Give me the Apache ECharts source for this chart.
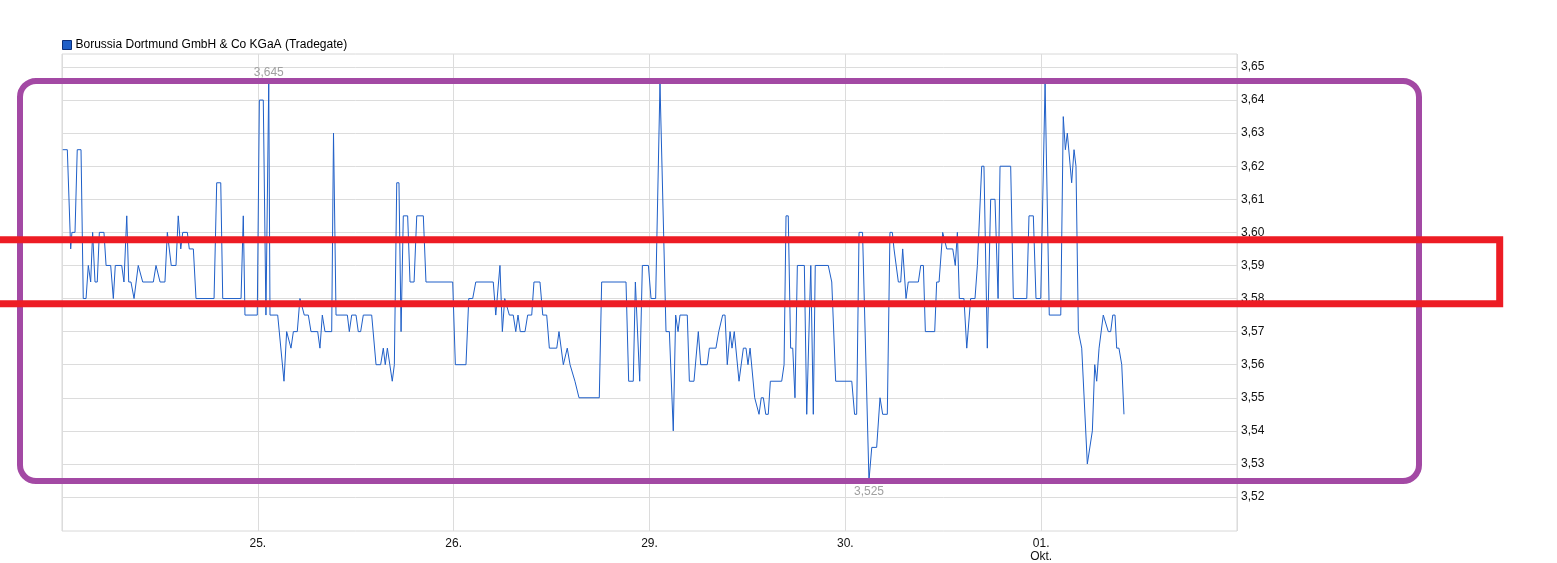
<!DOCTYPE html>
<html>
<head>
<meta charset="utf-8">
<script src="https://cdn.jsdelivr.net/npm/echarts@6/dist/echarts.min.js"></script>
<style>
html,body{margin:0;padding:0;background:#fff;}
#chart{width:1557px;height:563px;}
</style>
</head>
<body>
<div id="chart"></div>
<script>
// Trading-session hours since 24.09. 08:00 (each trading day = 14 h, 08:00-22:00)
var sessionHours = [
0.05,0.38,0.62,0.71,0.93,1.09,1.36,1.52,1.72,1.88,2.05,2.19,2.36,2.52,2.67,3.00,3.15,3.48,3.67,3.81,
4.27,4.43,4.63,4.77,4.93,5.15,5.29,5.45,5.58,5.77,6.53,6.72,6.86,7.01,7.36,7.53,7.65,7.81,8.15,8.31,
8.49,8.63,8.96,9.10,9.39,9.58,10.87,11.06,11.35,11.49,12.80,12.96,13.08,13.96,
14.11,14.39,14.58,14.78,14.87,15.42,15.87,16.06,16.18,16.37,16.54,16.82,17.01,17.14,17.32,17.61,17.80,
18.28,18.44,18.61,18.80,19.28,19.41,19.59,20.40,20.54,20.71,21.02,21.18,21.35,21.54,22.14,22.45,22.78,
22.97,23.11,23.26,23.61,23.76,23.93,24.09,24.24,24.40,24.71,24.88,25.17,25.36,25.83,26.02,27.93,
28.12,28.88,29.08,29.36,29.58,30.83,31.01,31.15,31.31,31.48,31.65,31.79,31.98,32.26,32.44,32.60,32.76,
33.10,33.29,33.58,33.74,34.17,34.37,34.65,34.84,35.37,35.53,35.67,35.84,35.96,36.12,36.32,36.44,36.67,
36.80,36.96,38.41,38.58,40.32,40.51,40.84,40.99,41.13,41.30,41.49,41.92,
42.11,42.44,42.75,43.18,43.42,43.70,43.87,44.04,44.18,44.70,44.85,45.18,45.49,45.66,46.13,46.28,46.75,
46.95,47.09,47.23,47.40,47.56,47.76,47.90,48.06,48.18,48.40,48.71,48.90,49.04,49.19,49.33,49.52,49.66,
49.83,49.99,50.14,50.31,50.49,50.64,51.45,51.62,51.76,51.92,52.09,52.24,52.40,52.57,53.07,53.24,53.38,
53.53,53.71,53.85,54.78,55.03,55.14,55.31,
56.46,56.66,56.81,56.98,57.23,57.69,57.89,58.24,58.48,58.67,59.00,59.19,59.36,59.48,59.62,59.79,59.96,
60.10,60.34,60.50,61.22,61.39,61.58,61.72,62.39,62.53,62.70,62.96,63.08,63.25,63.68,63.86,64.01,64.15,
64.48,64.68,64.79,64.96,65.27,65.44,65.75,65.91,66.15,66.27,66.39,66.70,66.92,67.06,67.82,68.01,68.97,
69.13,69.44,69.63,69.97,
70.28,70.58,71.40,71.58,71.73,71.87,72.18,72.35,72.49,72.66,72.90,73.01,73.30,73.66,73.83,73.97,74.14,
74.44,74.56,74.80,74.97,75.12,75.28,75.40,75.56,75.76,75.92
];
var prices = [
3.625,3.625,3.595,3.600,3.600,3.625,3.625,3.580,3.580,3.590,3.585,3.600,3.585,3.585,3.600,3.600,3.590,3.590,3.580,3.590,
3.590,3.585,3.605,3.585,3.585,3.580,3.580,3.590,3.590,3.585,3.585,3.590,3.590,3.585,3.585,3.600,3.600,3.590,3.590,3.605,
3.595,3.600,3.600,3.595,3.595,3.580,3.580,3.615,3.615,3.580,3.580,3.605,3.575,3.575,
3.640,3.640,3.575,3.645,3.575,3.575,3.555,3.570,3.570,3.565,3.570,3.570,3.580,3.580,3.575,3.575,3.570,
3.570,3.565,3.575,3.570,3.570,3.630,3.575,3.575,3.570,3.575,3.575,3.570,3.570,3.575,3.575,3.560,3.560,
3.565,3.560,3.565,3.555,3.560,3.615,3.615,3.570,3.605,3.605,3.585,3.585,3.605,3.605,3.585,3.585,
3.560,3.560,3.580,3.580,3.585,3.585,3.575,3.575,3.590,3.570,3.580,3.580,3.575,3.575,3.570,3.575,3.570,
3.570,3.575,3.575,3.585,3.585,3.575,3.575,3.565,3.565,3.570,3.570,3.560,3.560,3.565,3.560,3.560,3.555,
3.555,3.550,3.550,3.585,3.585,3.555,3.555,3.585,3.585,3.555,3.590,3.590,
3.580,3.580,3.645,3.570,3.570,3.540,3.575,3.570,3.575,3.575,3.555,3.555,3.570,3.560,3.560,3.565,3.565,
3.570,3.570,3.575,3.575,3.560,3.570,3.565,3.570,3.570,3.555,3.565,3.565,3.560,3.565,3.565,3.550,3.550,
3.545,3.550,3.550,3.545,3.545,3.555,3.555,3.560,3.605,3.605,3.565,3.565,3.550,3.590,3.590,3.545,3.545,
3.590,3.545,3.590,3.590,3.585,3.585,3.555,
3.555,3.545,3.545,3.600,3.600,3.525,3.535,3.535,3.550,3.545,3.545,3.600,3.600,3.595,3.595,3.585,3.585,
3.595,3.580,3.585,3.585,3.590,3.590,3.570,3.570,3.585,3.585,3.600,3.600,3.595,3.595,3.590,3.600,3.580,
3.580,3.565,3.565,3.580,3.580,3.590,3.620,3.620,3.565,3.565,3.610,3.610,3.580,3.620,3.620,3.580,3.580,
3.605,3.605,3.580,3.580,
3.645,3.575,3.575,3.635,3.625,3.630,3.615,3.625,3.620,3.570,3.565,3.565,3.530,3.540,3.560,3.555,3.565,
3.575,3.575,3.570,3.570,3.575,3.575,3.565,3.565,3.560,3.545
];
var dayTicks = [14, 28, 42, 56, 70];
var dayLabels = ['25.', '26.', '29.', '30.', '01.\nOkt.'];
var seriesName = 'Borussia Dortmund GmbH & Co KGaA (Tradegate)';

var data = sessionHours.map(function (h, i) { return [h, prices[i]]; });
function fmt(v, d) { return v.toFixed(d).replace('.', ','); }
var FONT = '"Liberation Sans", Arial, sans-serif';

var chart = echarts.init(document.getElementById('chart'), null, {renderer: 'canvas'});
chart.setOption({
  animation: false,
  backgroundColor: '#fff',
  textStyle: {fontFamily: FONT},
  legend: {
    left: 57, top: 34,
    icon: 'rect', itemWidth: 9, itemHeight: 9, itemGap: 10,
    textStyle: {fontSize: 12, color: '#000', fontFamily: FONT, padding: [0, 0, 0, -1]},
    data: [{name: seriesName, itemStyle: {color: '#1f5fc8', borderColor: '#0b2f7a', borderWidth: 1}}]
  },
  grid: [
    {left: 62, right: 320, top: 54, bottom: 28, show: true, borderColor: '#d8d8d8', borderWidth: 1, backgroundColor: 'transparent'},
    {left: 62, right: 320, top: 67, bottom: 66}
  ],
  xAxis: [
    {
      type: 'value', gridIndex: 0, min: 0, max: 84, interval: 14,
      axisLine: {show: false}, axisTick: {show: false},
      splitLine: {show: true, lineStyle: {color: '#dcdcdc', width: 1}},
      axisLabel: {
        showMinLabel: false, showMaxLabel: false,
        fontSize: 12, color: '#111', fontFamily: FONT, margin: 6, lineHeight: 13,
        formatter: function (v) { var i = dayTicks.indexOf(v); return i >= 0 ? dayLabels[i] : ''; }
      }
    },
    {type: 'value', gridIndex: 1, min: 0, max: 84, show: false}
  ],
  yAxis: [
    {type: 'value', gridIndex: 0, min: 0, max: 1, show: false},
    {
      type: 'value', gridIndex: 1, position: 'right', min: 3.52, max: 3.65, interval: 0.01,
      axisLine: {show: false}, axisTick: {show: false},
      splitLine: {show: true, lineStyle: {color: '#dcdcdc', width: 1}},
      axisLabel: {fontSize: 12, color: '#111', fontFamily: FONT, margin: 4, formatter: function (v) { return fmt(v, 2); }}
    }
  ],
  series: [{
    name: seriesName,
    type: 'line',
    xAxisIndex: 1, yAxisIndex: 1,
    data: data,
    showSymbol: false,
    symbol: 'none',
    color: '#1f5fc8',
    lineStyle: {color: '#1f5fc8', width: 1},
    markPoint: {
      symbol: 'circle', symbolSize: 0,
      data: [
        {type: 'max', label: {position: 'top', distance: 5}},
        {type: 'min', label: {position: 'bottom', distance: 5}}
      ],
      label: {show: true, color: '#a0a0a0', fontSize: 12, fontFamily: FONT,
        formatter: function (p) { return fmt(p.value, 3); }}
    }
  }],
  graphic: [
    {type: 'rect', z: 100, silent: true,
      shape: {x: 20, y: 81, width: 1399, height: 400, r: 16},
      style: {fill: 'none', stroke: '#A349A4', lineWidth: 6}},
    {type: 'rect', z: 101, silent: true,
      shape: {x: -10, y: 239.7, width: 1509.7, height: 64},
      style: {fill: 'none', stroke: '#ED1C24', lineWidth: 7}}
  ]
});
</script>
</body>
</html>
